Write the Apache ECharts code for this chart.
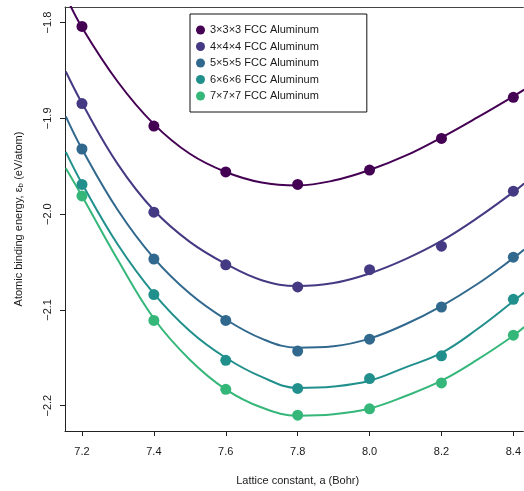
<!DOCTYPE html>
<html>
<head>
<meta charset="utf-8">
<script src="https://cdn.jsdelivr.net/npm/echarts@6/dist/echarts.min.js"></script>
<style>html,body{margin:0;padding:0;background:#fff;}#c{width:524px;height:491px;}</style>
</head>
<body>
<div id="c"></div>
<script>
// Lattice constants (Bohr) of computed points
const latticeX = [7.2, 7.4, 7.6, 7.8, 8.0, 8.2, 8.4];
// Computed binding energies (eV/atom)
const e333 = [-1.804, -1.908, -1.956, -1.969, -1.954, -1.921, -1.878];
const e444 = [-1.8845, -1.998, -2.053, -2.076, -2.058, -2.0335, -1.976];
const e555 = [-1.932, -2.047, -2.111, -2.143, -2.1306, -2.097, -2.045];
const e666 = [-1.969, -2.084, -2.1527, -2.182, -2.1717, -2.148, -2.089];
const e777 = [-1.981, -2.111, -2.183, -2.210, -2.2033, -2.1763, -2.1264];
// Fitted curves
const fitX = [7.155, 7.2, 7.3, 7.4, 7.5, 7.6, 7.7, 7.8, 7.9, 8.0, 8.1, 8.2, 8.3, 8.4, 8.43];
const fit333 = [-1.772, -1.805, -1.862, -1.906, -1.937, -1.956, -1.967, -1.970, -1.965, -1.954, -1.939, -1.920, -1.899, -1.877, -1.870];
const fit444 = [-1.851, -1.884, -1.948, -1.996, -2.029, -2.052, -2.069, -2.075, -2.072, -2.062, -2.047, -2.028, -2.004, -1.977, -1.968];
const fit555 = [-1.898, -1.932, -1.996, -2.046, -2.083, -2.110, -2.130, -2.1395, -2.138, -2.130, -2.115, -2.096, -2.073, -2.046, -2.037];
const fit666 = [-1.935, -1.968, -2.032, -2.083, -2.122, -2.150, -2.170, -2.1815, -2.180, -2.174, -2.160, -2.145, -2.120, -2.091, -2.082];
const fit777 = [-1.952, -1.981, -2.048, -2.109, -2.152, -2.183, -2.202, -2.2105, -2.209, -2.203, -2.190, -2.174, -2.152, -2.127, -2.118];
const seriesNames = ['3×3×3 FCC Aluminum', '4×4×4 FCC Aluminum', '5×5×5 FCC Aluminum', '6×6×6 FCC Aluminum', '7×7×7 FCC Aluminum'];
const xTicks = [7.2, 7.4, 7.6, 7.8, 8.0, 8.2, 8.4];
const yTicks = [-2.2, -2.1, -2.0, -1.9, -1.8];
const xTitle = 'Lattice constant, a (Bohr)';

const colors = ['#440154', '#443A83', '#31688E', '#21908C', '#35B779'];
const pts = [e333, e444, e555, e666, e777];
const fits = [fit333, fit444, fit555, fit666, fit777];
const FONT = 'Liberation Sans, Arial, sans-serif';
const TXT = '#1a1a1a';
const XMIN = 7.1528, XMAX = 8.4278;

const series = [];
fits.forEach((f, i) => {
  series.push({
    name: 'fit' + i, type: 'line', smooth: 0.4, showSymbol: false, silent: true,
    data: fitX.map((x, k) => [x, f[k]]),
    lineStyle: { color: colors[i], width: 2 }, itemStyle: { color: colors[i] }, z: 2
  });
});
pts.forEach((p, i) => {
  series.push({
    name: seriesNames[i], type: 'scatter', symbol: 'circle', symbolSize: 11,
    data: latticeX.map((x, k) => [x, p[k]]),
    itemStyle: { color: colors[i], opacity: 1 }, z: 3
  });
});

const chart = echarts.init(document.getElementById('c'), null, { renderer: 'canvas' });
chart.setOption({
  animation: false,
  backgroundColor: '#fff',
  textStyle: { fontFamily: FONT },
  grid: { left: 65, top: 7, right: 0, bottom: 58, show: false },
  legend: {
    data: seriesNames, orient: 'vertical', left: 190, top: 14,
    icon: 'circle', itemWidth: 9, itemHeight: 9, itemGap: 2.5,
    padding: [9, 48, 9, 6],
    borderColor: '#111', borderWidth: 1, backgroundColor: '#fff',
    textStyle: { fontFamily: FONT, fontSize: 11, color: TXT, lineHeight: 14 }
  },
  xAxis: [{
    type: 'value', min: XMIN, max: XMAX,
    name: xTitle, nameLocation: 'middle', nameGap: 44,
    nameTextStyle: { fontFamily: FONT, fontSize: 11, color: TXT, padding: [0, 0, 0, 7] },
    axisLine: { show: true, lineStyle: { color: '#222', width: 1 } },
    axisTick: { show: true, length: 5, lineStyle: { color: '#222' }, customValues: xTicks },
    axisLabel: { customValues: xTicks, fontFamily: FONT, fontSize: 11, color: TXT, margin: 15,
      formatter: v => v.toFixed(1) },
    splitLine: { show: false }
  }, {
    type: 'value', position: 'top', min: XMIN, max: XMAX,
    axisLine: { show: true, onZero: false, lineStyle: { color: '#444', width: 1 } },
    axisTick: { show: false }, axisLabel: { show: false }, splitLine: { show: false }
  }],
  yAxis: {
    type: 'value', min: -2.2265, max: -1.7837,
    name: 'Atomic binding energy, {e|ε}{s|b} (eV/atom)', nameLocation: 'middle', nameGap: 40,
    nameTextStyle: { fontFamily: FONT, fontSize: 11, color: TXT,
      rich: { e: { fontFamily: FONT, fontSize: 11, color: TXT },
              s: { fontFamily: FONT, fontSize: 8, color: TXT, padding: [5, 0, 0, 0] } } },
    axisLine: { show: true, onZero: false, lineStyle: { color: '#222', width: 1 } },
    axisTick: { show: true, length: 5, lineStyle: { color: '#222' }, customValues: yTicks },
    axisLabel: { customValues: yTicks, fontFamily: FONT, fontSize: 11, color: TXT, margin: 12, rotate: 90,
      formatter: v => (v < 0 ? '−' : '') + Math.abs(v).toFixed(1) },
    splitLine: { show: false }
  },
  series: series
});
</script>
</body>
</html>
